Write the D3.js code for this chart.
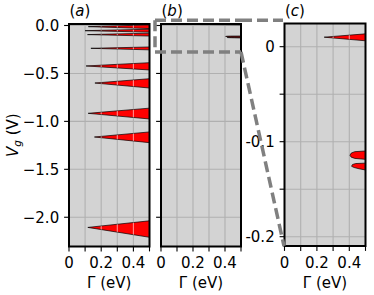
<!DOCTYPE html>
<html><head><meta charset="utf-8">
<script src="https://cdn.jsdelivr.net/npm/d3@7"></script>
<style>
body{margin:0;background:#fff}
svg{display:block}
text{font-family:"DejaVu Sans",sans-serif;fill:#000}
</style>
</head><body>
<svg id="chart" width="374" height="295"></svg>
<script>
// ---- data ----
const gammaTicks = [0, 0.1, 0.2, 0.3, 0.4, 0.5];
const gammaTickLabels = ["0", "", "0.2", "", "0.4", ""];
const vgTicksAB = [0, -0.5, -1.0, -1.5, -2.0];
const vgTickLabelsAB = ["0.0", "\u22120.5", "\u22121.0", "\u22121.5", "\u22122.0"];
const vgTicksC = [0, -0.05, -0.1, -0.15, -0.2];
const vgTickLabelsC = ["0", "", "-0.1", "", "-0.2"];

// panel (a) wedges: tip (Gamma, Vg) and opening at Gamma = 0.5 (top, bottom)
const aTipGamma = [0.12, 0.10, 0.115, 0.136, 0.106, 0.161, 0.119, 0.158, 0.117];
const aTipVg    = [-0.012, -0.054, -0.095, -0.238, -0.422, -0.600, -0.916, -1.163, -2.106];
const aTopVg    = [0.006, -0.039, -0.080, -0.224, -0.388, -0.555, -0.862, -1.110, -2.037];
const aBotVg    = [-0.032, -0.069, -0.110, -0.254, -0.464, -0.652, -0.975, -1.222, -2.209];

// panels (b),(c) wedges as outlines [Gamma, Vg]
const bcWedge1 = [[0.245, 0.0100], [0.5, 0.0135], [0.5, 0.0062]];
const bcWedge2 = [[0.404, -0.1143], [0.412, -0.1120], [0.434, -0.1105], [0.5, -0.1098],
                  [0.5, -0.1186], [0.434, -0.1176], [0.412, -0.1163]];
const bcWedge3 = [[0.414, -0.1259], [0.420, -0.1240], [0.440, -0.1230], [0.5, -0.1226],
                  [0.5, -0.1298], [0.460, -0.1285], [0.430, -0.1272]];

// zoom-inset marker (in panel b data coords)
const insetGamma = [-0.0375, 0.5];
const insetVg = [0.055, -0.276];

const xDomain = [0, 0.5];
const yDomainAB = [-2.305, 0.0156];
const yDomainC = [-0.2098, 0.0244];

// ---- layout ----
const svg = d3.select("#chart");
const FS = 15;
const panels = [
  {id: "a", label: "a", x0: 69, x1: 149.5, y0: 24, y1: 246.5, yDomain: yDomainAB,
   yTicks: vgTicksAB, yLabels: vgTickLabelsAB, showY: true},
  {id: "b", label: "b", x0: 161, x1: 241, y0: 24, y1: 246.5, yDomain: yDomainAB,
   yTicks: vgTicksAB, yLabels: vgTickLabelsAB, showY: false},
  {id: "c", label: "c", x0: 284.5, x1: 365.5, y0: 23.5, y1: 246, yDomain: yDomainC,
   yTicks: vgTicksC, yLabels: vgTickLabelsC, showY: true}
];

const aWedges = aTipGamma.map((g, i) => [[g, aTipVg[i]], [0.5, aTopVg[i]], [0.5, aBotVg[i]]]);
const bcWedges = [bcWedge1, bcWedge2, bcWedge3];
panels[0].wedges = aWedges;
panels[1].wedges = bcWedges;
panels[2].wedges = bcWedges;

const defs = svg.append("defs");

panels.forEach(p => {
  p.x = d3.scaleLinear().domain(xDomain).range([p.x0, p.x1]);
  p.y = d3.scaleLinear().domain(p.yDomain).range([p.y1, p.y0]);
  const g = svg.append("g");
  const w = p.x1 - p.x0, h = p.y1 - p.y0;

  defs.append("clipPath").attr("id", "clip" + p.id)
    .append("rect").attr("x", p.x0).attr("y", p.y0).attr("width", w).attr("height", h);

  g.append("rect").attr("x", p.x0).attr("y", p.y0).attr("width", w).attr("height", h)
    .attr("fill", "#d3d3d3");

  const inner = g.append("g").attr("clip-path", `url(#clip${p.id})`);
  // grid
  inner.selectAll(".gx").data(gammaTicks).join("line")
    .attr("x1", d => p.x(d)).attr("x2", d => p.x(d)).attr("y1", p.y0).attr("y2", p.y1)
    .attr("stroke", "#b0b0b0").attr("stroke-width", 1.1);
  inner.selectAll(".gy").data(p.yTicks).join("line")
    .attr("y1", d => p.y(d)).attr("y2", d => p.y(d)).attr("x1", p.x0).attr("x2", p.x1)
    .attr("stroke", "#b0b0b0").attr("stroke-width", 1.1);

  const line = d3.line().x(d => p.x(d[0])).y(d => p.y(d[1]));
  // wedges
  inner.selectAll(".w").data(p.wedges).join("path")
    .attr("d", d => line(d) + "Z")
    .attr("fill", "#ff0000").attr("stroke", "#000").attr("stroke-width", 0.7)
    .attr("stroke-linejoin", "round");

  // light grid over red
  const cp = defs.append("clipPath").attr("id", "wclip" + p.id);
  cp.selectAll("path").data(p.wedges).join("path").attr("d", d => line(d) + "Z");
  inner.append("g").attr("clip-path", `url(#wclip${p.id})`)
    .selectAll("line").data(gammaTicks).join("line")
    .attr("x1", d => p.x(d)).attr("x2", d => p.x(d)).attr("y1", p.y0).attr("y2", p.y1)
    .attr("stroke", "#ffffff").attr("stroke-opacity", 0.55).attr("stroke-width", 1.1);

  // spines
  g.append("rect").attr("x", p.x0).attr("y", p.y0).attr("width", w).attr("height", h)
    .attr("fill", "none").attr("stroke", "#000").attr("stroke-width", 2);

  // x ticks
  gammaTicks.forEach((t, i) => {
    g.append("line").attr("x1", p.x(t)).attr("x2", p.x(t))
      .attr("y1", p.y1).attr("y2", p.y1 + 4.9).attr("stroke", "#000").attr("stroke-width", 1.1);
    if (gammaTickLabels[i]) {
      g.append("text").attr("x", p.x(t)).attr("y", 268).attr("text-anchor", "middle")
        .attr("font-size", FS).text(gammaTickLabels[i]);
    }
  });
  // y ticks
  p.yTicks.forEach((t, i) => {
    g.append("line").attr("y1", p.y(t)).attr("y2", p.y(t))
      .attr("x1", p.x0 - 4.9).attr("x2", p.x0).attr("stroke", "#000").attr("stroke-width", 1.1);
    if (p.showY && p.yLabels[i]) {
      g.append("text").attr("x", p.x0 - 9.8).attr("y", p.y(t)).attr("dy", "0.36em")
        .attr("text-anchor", "end").attr("font-size", FS).text(p.yLabels[i]);
    }
  });
  // x label
  const xl = g.append("text").attr("x", (p.x0 + p.x1) / 2).attr("y", 288)
    .attr("text-anchor", "middle").attr("font-size", FS);
  xl.append("tspan").text("\u0393 (eV)");
  // title
  const tt = g.append("text").attr("x", p.x0 + 0.5).attr("y", 15.5).attr("font-size", FS);
  tt.append("tspan").text("(");
  tt.append("tspan").attr("font-style", "italic").text(p.label);
  tt.append("tspan").text(")");
});

// y label
const yl = svg.append("text").attr("transform", `translate(17.5,${(24 + 246.5) / 2}) rotate(-90)`)
  .attr("text-anchor", "middle").attr("font-size", FS);
yl.append("tspan").attr("font-style", "italic").text("V");
yl.append("tspan").attr("font-style", "italic").attr("font-size", FS * 0.7).attr("dy", 3).text("g");
yl.append("tspan").attr("dy", -3).text(" (V)");

// inset marker and connectors
const pb = panels[1], pc = panels[2];
const rx0 = pb.x(insetGamma[0]), rx1 = pb.x(insetGamma[1]);
const ry0 = pb.y(insetVg[0]), ry1 = pb.y(insetVg[1]);
const dash = {stroke: "#808080", "stroke-width": 3.5, "stroke-dasharray": "11,5", fill: "none"};
function dl(x1, y1, x2, y2) {
  const l = svg.append("line").attr("x1", x1).attr("y1", y1).attr("x2", x2).attr("y2", y2);
  Object.entries(dash).forEach(([k, v]) => l.attr(k, v));
}
dl(rx0, ry0, rx1, ry0);
dl(rx0, ry0, rx0, ry1);
dl(rx0, ry1, rx1, ry1);
dl(rx1, ry0, pc.x(0) - 1.5, ry0);
dl(rx1, ry1, pc.x(0) - 0.5, pc.y(pc.yDomain[0]));
</script>
</body></html>
